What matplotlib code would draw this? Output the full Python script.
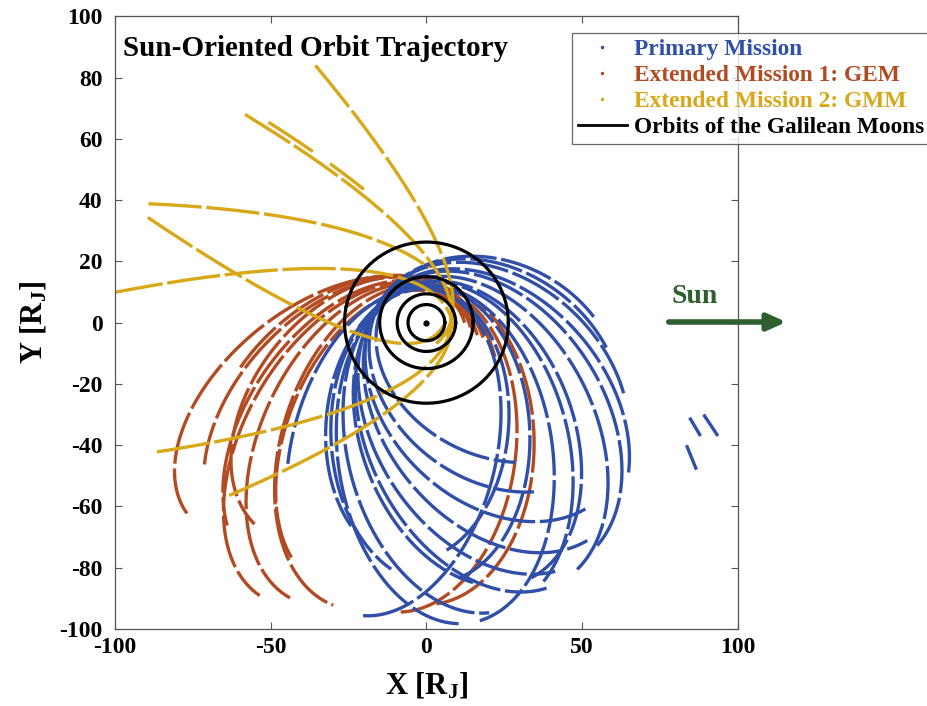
import numpy as np
import matplotlib
matplotlib.use('Agg')
import matplotlib.pyplot as plt
from matplotlib.lines import Line2D

plt.rcParams['font.family'] = ['Liberation Serif', 'DejaVu Serif']
plt.rcParams['font.weight'] = 'bold'
plt.rcParams['mathtext.fontset'] = 'custom'
plt.rcParams['mathtext.rm'] = 'Liberation Serif:bold'
plt.rcParams['mathtext.default'] = 'rm'
plt.rcParams['axes.unicode_minus'] = False

# orbit arcs: periapsis, apoapsis [R_J], apoapsis direction [deg], true anomaly range [deg]
blue_rp = [15, 16, 16, 15, 15, 14, 13, 13, 12, 12, 11, 11]
blue_ra = [66, 72, 80, 88, 92, 95, 90, 97, 99, 85, 78, 98]
blue_apo = [-28, -38, -45, -52, -58, -64, -70, -76, -82, -88, -95, -104]
blue_nu0 = [-150, -150, -155, -165, -175, -175, -178, -170, -178, -175, -170, -178]
blue_nu1 = [150, 160, 175, 178, 175, 178, 170, 178, 178, 170, 165, 150]
# short isolated primary-mission pieces far to the right
blue_seg_x0 = [84.5, 89.0, 83.5]
blue_seg_y0 = [-31, -30, -40]
blue_seg_x1 = [88.0, 93.6, 86.7]
blue_seg_y1 = [-37, -37, -48]

red_rp = [11, 12, 12, 13, 12, 12, 12, 10, 12, 12, 13]
red_ra = [99, 88, 95, 86, 97, 104, 100, 92, 97, 95, 92]
red_apo = [-140, -136, -132, -128, -124, -120, -115, -111, -107, -97, -90]
red_nu0 = [-40, -50, -60, -50, -70, -60, -80, -70, -100, -178, -178]
red_nu1 = [179, 150, 165, 178, 170, 179, 179, 172, 179, -60, -70]

yel_rp = [7, 8, 9, 9, 12, 5, 8, 8, 8]
yel_ra = [3000, 3000, 3000, 3000, 3000, 3000, 3000, 3000, 3000]
yel_apo = [144.7, 164.9, 165.8, 165.8, 197, 133, 206.6, 173, 186.4]
yel_nu0 = [148.3, 145.7, 142, 135, 139.5, -154, 148, -147, -144.7]
yel_nu1 = [-30, -20, 137, 129, 70, 40, -40, 20, 20]

moon_radii = [5.9, 9.4, 15.0, 26.3]

c_blue = '#2f4fa8'
c_red = '#b24a22'
c_yel = '#d8a818'
c_sun = '#2e5f2e'


def orbit_arc(rp, ra, apo, nu0, nu1):
    e = (ra - rp) / (ra + rp)
    p = 2.0 * rp * ra / (ra + rp)
    nu = np.radians(np.linspace(nu0, nu1, 500))
    r = p / (1 + e * np.cos(nu))
    w = np.radians(apo + 180)
    return r * np.cos(w + nu), r * np.sin(w + nu)


fig = plt.figure(figsize=(9.27, 7.06), dpi=100)
ax = fig.add_axes([0.124, 0.109, 0.672, 0.868])

dash = (0, (16, 1.4))
for rps, ras, apos, n0s, n1s, col in [
        (red_rp, red_ra, red_apo, red_nu0, red_nu1, c_red),
        (blue_rp, blue_ra, blue_apo, blue_nu0, blue_nu1, c_blue),
        (yel_rp, yel_ra, yel_apo, yel_nu0, yel_nu1, c_yel)]:
    for k in range(len(rps)):
        x, y = orbit_arc(rps[k], ras[k], apos[k], n0s[k], n1s[k])
        ax.plot(x, y, color=col, lw=2.4, linestyle=dash, solid_capstyle='butt')

for k in range(len(blue_seg_x0)):
    ax.plot([blue_seg_x0[k], blue_seg_x1[k]], [blue_seg_y0[k], blue_seg_y1[k]],
            color=c_blue, lw=2.4, solid_capstyle='butt')

t = np.linspace(0, 2 * np.pi, 300)
for R in moon_radii:
    ax.plot(R * np.cos(t), R * np.sin(t), color='black', lw=2.3)
ax.plot(0, 0, 'o', color='black', ms=3.5)

ax.set_xlim(-100, 100)
ax.set_ylim(-100, 100)
ax.set_xticks([-100, -50, 0, 50, 100])
ax.set_yticks(np.arange(-100, 101, 20))
ax.tick_params(direction='in', top=True, right=True, labelsize=17, length=5,
               width=0.8, color='#555555')
ax.tick_params(axis='y', pad=9)
ax.tick_params(axis='x', pad=6)
for s in ax.spines.values():
    s.set_color('#555555')
    s.set_linewidth(0.9)
ax.set_xlabel('X [R$_{J}$]', fontsize=22, fontweight='bold', labelpad=9)
ax.set_ylabel('Y [R$_{J}$]', fontsize=22, fontweight='bold', labelpad=8)

ax.text(0.013, 0.969, 'Sun-Oriented Orbit Trajectory', transform=ax.transAxes,
        fontsize=21, fontweight='bold', va='top', ha='left')

handles = [Line2D([], [], color=c_blue, marker='.', ms=3, ls='none'),
           Line2D([], [], color=c_red, marker='.', ms=3, ls='none'),
           Line2D([], [], color=c_yel, marker='.', ms=3, ls='none'),
           Line2D([], [], color='black', lw=2)]
labels = ['Primary Mission', 'Extended Mission 1: GEM',
          'Extended Mission 2: GMM', 'Orbits of the Galilean Moons']
leg = fig.legend(handles, labels, loc='upper left',
                 bbox_to_anchor=(572 / 927, 1 - 33 / 706), fontsize=16.8,
                 frameon=True, fancybox=False, edgecolor='#444444',
                 handlelength=2.1, handletextpad=0.3, borderpad=0.25,
                 labelspacing=0.2, borderaxespad=0)
leg.get_frame().set_linewidth(0.9)
for txt, col in zip(leg.get_texts(), [c_blue, c_red, c_yel, 'black']):
    txt.set_color(col)

ax.annotate('', xy=(789 / 927, 1 - 322 / 706), xytext=(666 / 927, 1 - 322 / 706),
            xycoords='figure fraction', textcoords='figure fraction',
            arrowprops=dict(arrowstyle='-|>,head_length=1.1,head_width=0.5',
                            color=c_sun, lw=4))
fig.text(695 / 927, 1 - 297 / 706, 'Sun', color=c_sun, fontsize=20,
         fontweight='bold', ha='center', va='center')

fig.savefig('out.png', dpi=100)
